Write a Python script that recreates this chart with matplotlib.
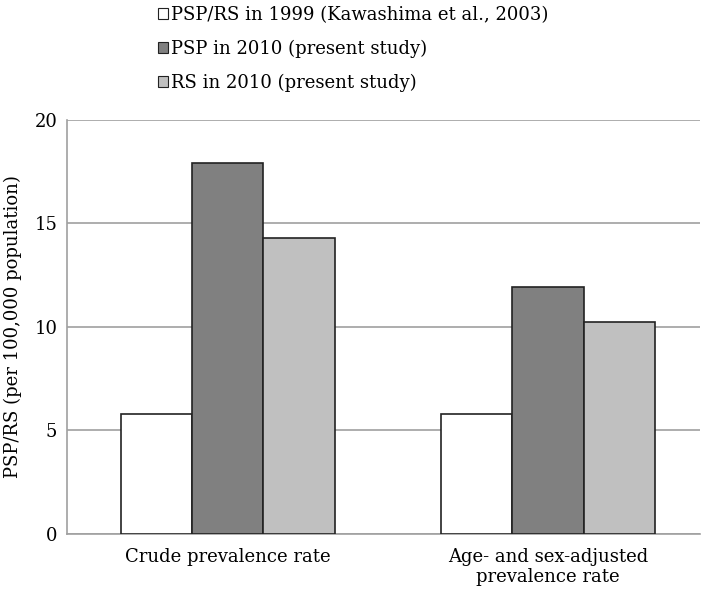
import numpy as np
import matplotlib
matplotlib.use('Agg')
import matplotlib.pyplot as plt
from matplotlib.patches import Patch

categories = ['Crude prevalence rate', 'Age- and sex-adjusted\nprevalence rate']
series_names = ['PSP/RS in 1999 (Kawashima et al., 2003)',
                'PSP in 2010 (present study)',
                'RS in 2010 (present study)']
val_1999 = [5.8, 5.8]
val_psp_2010 = [17.9, 11.9]
val_rs_2010 = [14.3, 10.2]
yticks = [0, 5, 10, 15, 20]

colors = ['#ffffff', '#808080', '#c0c0c0']

plt.rcParams['font.family'] = 'DejaVu Serif'

fig = plt.figure(figsize=(7.09, 5.92), dpi=100)
ax = fig.add_axes([0.0945, 0.0985, 0.8925, 0.6995])

x = np.arange(len(categories))
w = 0.2225
for i, vals in enumerate([val_1999, val_psp_2010, val_rs_2010]):
    ax.bar(x + (i - 1) * w, vals, w, color=colors[i], edgecolor='#222222',
           linewidth=1.2, zorder=3)

ax.set_xlim(-0.501, 1.473)
ax.set_ylim(0, 20)
ax.set_yticks(yticks)
ax.yaxis.grid(True, color='#a0a0a0', linewidth=1.2, zorder=0)
ax.set_axisbelow(True)
ax.set_xticks(x)
ax.set_xticklabels(categories, fontsize=13)
ax.tick_params(axis='both', length=0, labelsize=13)
ax.tick_params(axis='y', pad=7)
ax.tick_params(axis='x', pad=10)
for s in ['top', 'right']:
    ax.spines[s].set_visible(False)
ax.spines['left'].set_color('#a0a0a0')
ax.spines['bottom'].set_color('#a0a0a0')
ax.spines['left'].set_linewidth(1.2)
ax.spines['bottom'].set_linewidth(1.2)
ax.set_ylabel('PSP/RS (per 100,000 population)', fontsize=13, labelpad=9)

handles = [Patch(facecolor=c, edgecolor='#222222', linewidth=0.8) for c in colors]
fig.legend(handles, series_names, loc='upper left', bbox_to_anchor=(158 / 709, 0.99),
           frameon=False, fontsize=13, handlelength=0.55, handleheight=0.55,
           handletextpad=0.18, labelspacing=0.88, borderpad=0, borderaxespad=0)

fig.savefig('out.png', dpi=100)
